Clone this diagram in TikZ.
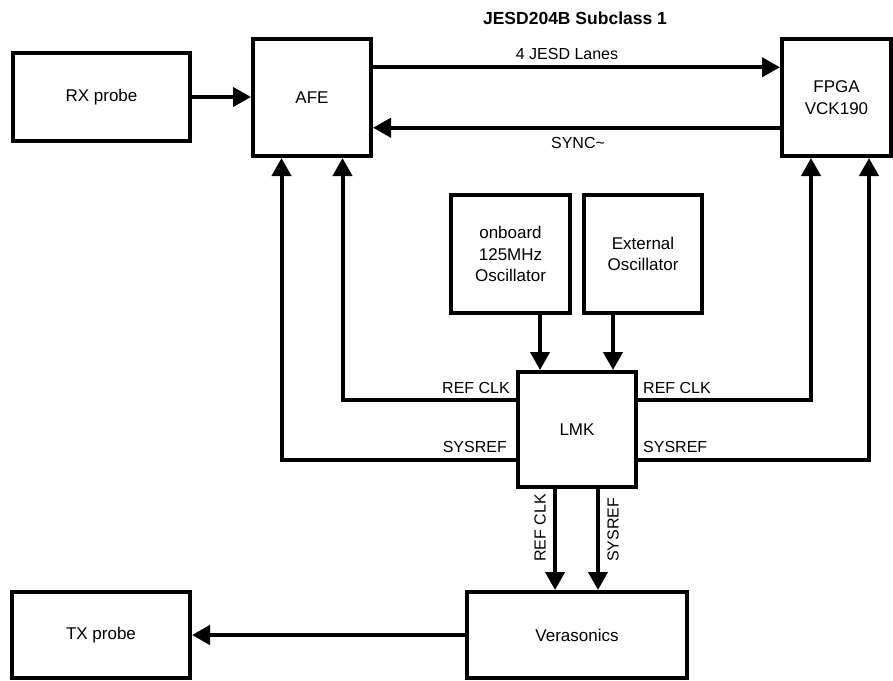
\documentclass[tikz,border=0pt]{standalone}
\usepackage{fontspec}
\setmainfont{Liberation Sans}
\usetikzlibrary{arrows.meta,calc}
\tikzset{
  blk/.style={draw, line width=4pt, align=center, inner sep=0pt, font=\fontsize{17}{21.5}\selectfont},
  arr/.style={line width=4pt, -{Triangle[length=18pt,width=19pt]}},
  lbl/.style={font=\fontsize{16}{19}\selectfont, inner sep=0pt},
  ttl/.style={font=\bfseries\fontsize{17.5}{20}\selectfont, inner sep=0pt},
}
\begin{document}
\begin{tikzpicture}[x=1pt,y=-1pt]
\useasboundingbox (0,0) rectangle (893,680);
% blocks
\node[blk, minimum width=177pt, minimum height=88pt] (rx) at (101.5,97) {RX probe};
\node[blk, minimum width=118pt, minimum height=117pt] (afe) at (312,97.5) {AFE};
\node[blk, minimum width=109pt, minimum height=117pt] (fpga) at (836.5,97.5) {FPGA\\VCK190};
\node[blk, minimum width=119pt, minimum height=118pt] (osc1) at (510.5,254) {onboard\\125MHz\\Oscillator};
\node[blk, minimum width=118pt, minimum height=118pt] (osc2) at (643,254) {External\\Oscillator};
\node[blk, minimum width=118pt, minimum height=115pt] (lmk) at (577,429.5) {LMK};
\node[blk, minimum width=220pt, minimum height=86pt] (vera) at (577,635) {Verasonics};
\node[blk, minimum width=178pt, minimum height=86pt] (tx) at (101,635) {TX probe};
% helper coordinates
\coordinate (a1) at ($(afe.north east)!0.25!(afe.south east)$);
\coordinate (a2) at ($(afe.north east)!0.75!(afe.south east)$);
\coordinate (b1) at ($(afe.south west)!0.25!(afe.south east)$);
\coordinate (b2) at ($(afe.south west)!0.75!(afe.south east)$);
\coordinate (f1) at ([xshift=31pt]fpga.south west);
\coordinate (f2) at ([xshift=89pt]fpga.south west);
\coordinate (l1) at ($(lmk.north west)!0.25!(lmk.south west)$);
\coordinate (l2) at ($(lmk.north west)!0.76!(lmk.south west)$);
\coordinate (r1) at ($(lmk.north east)!0.25!(lmk.south east)$);
\coordinate (r2) at ($(lmk.north east)!0.76!(lmk.south east)$);
\coordinate (t1) at ($(lmk.north west)!0.197!(lmk.north east)$);
\coordinate (t2) at ($(lmk.north west)!0.795!(lmk.north east)$);
\coordinate (d1) at ($(lmk.south west)!0.32!(lmk.south east)$);
\coordinate (d2) at ($(lmk.south west)!0.672!(lmk.south east)$);
% connectors
\draw[arr] (rx.east) -- (rx.east -| afe.west);
\draw[arr] (a1) -- (a1 -| fpga.west);
\draw[arr] (a2 -| fpga.west) -- (a2);
\draw[arr] (l1) -| (b2);
\draw[arr] (l2) -| (b1);
\draw[arr] (r1) -| (f1);
\draw[arr] (r2) -| (f2);
\draw[arr] (osc1.south -| t1) -- (t1);
\draw[arr] (osc2.south -| t2) -- (t2);
\draw[arr] (d1) -- (d1 |- vera.north);
\draw[arr] (d2) -- (d2 |- vera.north);
\draw[arr] (vera.west) -- (vera.west -| tx.east);
% labels
\node[ttl] (title) at (575,18.5) {JESD204B Subclass 1};
\node[lbl] (jl) at (567,54) {4 JESD Lanes};
\node[lbl] (sy) at (578,142.5) {SYNC\textasciitilde};
\node[lbl, anchor=east] (lrc) at (510,387.5) {REF CLK};
\node[lbl, anchor=west] (rrc) at (643,387.5) {REF CLK};
\node[lbl, anchor=east] (lsr) at (507,446.5) {SYSREF};
\node[lbl, anchor=west] (rsr) at (643,446.5) {SYSREF};
\node[lbl, rotate=90, anchor=west] (vrc) at (540,562) {REF CLK};
\node[lbl, rotate=90, anchor=west] (vsr) at (613,562) {SYSREF};
\end{tikzpicture}
\end{document}
